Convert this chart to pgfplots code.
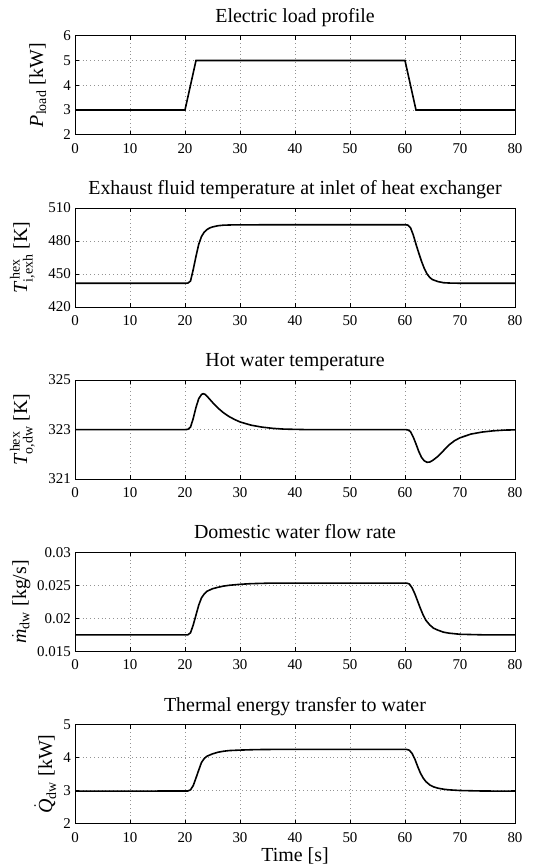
\documentclass[border=0pt]{standalone}
\usepackage{fontspec}
\setmainfont{Liberation Serif}
\usepackage{amsmath}
\usepackage{pgfplots}
\pgfplotsset{compat=1.18}
\pgfplotsset{
  mstyle/.style={
    scale only axis, width=440bp, height=99bp,
    anchor=north west,
    xmin=0, xmax=80, xtick={0,10,...,80},
    axis line style={line width=0.8bp},
    every tick/.style={black, line width=0.6bp},
    tick align=inside, major tick length=4bp,
    grid=major,
    major grid style={line width=0.6bp, gray!85, dash pattern=on 0.6bp off 3.2bp},
    /pgf/number format/assume math mode=true,
    ticklabel style={font=\fontsize{15}{15}\selectfont},
    xticklabel style={inner sep=0pt, yshift=-8.5bp},
    yticklabel style={inner sep=0pt, xshift=-4bp},
    scaled y ticks=false,
    title style={font=\fontsize{20}{22}\selectfont, at={(0.5,1)}, anchor=base, yshift=7.5bp, inner sep=0pt},
    ylabel style={font=\fontsize{20}{22}\selectfont, anchor=base, inner sep=0pt},
    xlabel style={font=\fontsize{20}{22}\selectfont, at={(axis description cs:0.5,0)}, anchor=base, yshift=-38bp, inner sep=0pt},
    every axis plot post/.append style={black, line width=1.6bp, mark=none},
  }
}
\begin{document}
\begin{tikzpicture}
\useasboundingbox (0,0) rectangle (542bp,-865bp);
% 1
\begin{axis}[mstyle, at={(75bp,-35.7bp)},
  ymin=2, ymax=6, ytick={2,3,4,5,6},
  title={Electric load profile},
  ylabel={$\textit{P}_{\text{load}}$ [kW]},
  ylabel style={at={(axis description cs:-0.0727,0.5)}}]
\addplot coordinates {(0,3)(20,3)(22,5)(60,5)(62,3)(80,3)};
\end{axis}
% 2
\begin{axis}[mstyle, at={(75bp,-207.9bp)},
  ymin=420, ymax=510, ytick={420,450,480,510},
  title={Exhaust fluid temperature at inlet of heat exchanger},
  ylabel={$\textit{T}^{\,\text{hex}}_{\text{i,exh}}$ [K]},
  ylabel style={at={(axis description cs:-0.109,0.5)}}]
\addplot coordinates {(0,441.5)(20,441.5)(20.5,441.6)(21,443.5)(21.5,454)(22,466)(22.5,477)(23,484)(23.5,488)(24,490.3)(24.5,491.8)(25,492.7)(26,493.8)(27,494.3)(29,494.6)(40,494.7)(60,494.7)(60.5,494.4)(61,492)(61.5,485.5)(62,477)(62.5,469)(63,461.5)(63.5,455)(64,450)(64.5,446.8)(65,444.8)(66,443)(67,442)(68,441.7)(70,441.5)(80,441.5)};
\end{axis}
% 3
\begin{axis}[mstyle, at={(75bp,-380.1bp)},
  ymin=321, ymax=325, ytick={321,323,325},
  title={Hot water temperature},
  ylabel={$\textit{T}^{\,\text{hex}}_{\text{o,dw}}$ [K]},
  ylabel style={at={(axis description cs:-0.109,0.5)}}]
\addplot coordinates {(0,323)(20,323)(20.5,323.01)(21,323.1)(21.5,323.45)(22,323.9)(22.5,324.25)(23,324.42)(23.3,324.45)(23.7,324.42)(24.2,324.3)(25,324.1)(26,323.87)(27,323.68)(28,323.53)(29,323.41)(30,323.31)(32,323.18)(34,323.1)(36,323.05)(38,323.02)(42,323.0)(60,323.0)(60.5,322.99)(61,322.92)(61.5,322.7)(62,322.42)(62.5,322.12)(63,321.88)(63.5,321.74)(64,321.68)(64.5,321.69)(65,321.75)(66,321.92)(67,322.15)(68,322.38)(69,322.55)(70,322.67)(72,322.82)(74,322.9)(76,322.95)(78,322.98)(80,322.99)};
\end{axis}
% 4
\begin{axis}[mstyle, at={(75bp,-552.3bp)},
  ymin=0.015, ymax=0.03, ytick={0.015,0.02,0.025,0.03},
  yticklabels={0.015,0.02,0.025,0.03},
  title={Domestic water flow rate},
  ylabel={$\dot{\textit{m}}_{\text{dw}}$ [kg/s]},
  ylabel style={at={(axis description cs:-0.111,0.5)}}]
\addplot coordinates {(0,0.01748)(20.5,0.0175)(21,0.0178)(21.5,0.0190)(22,0.0205)(22.5,0.0220)(23,0.0231)(23.5,0.0237)(24,0.0241)(25,0.02448)(26,0.0247)(27,0.02488)(28,0.0250)(30,0.02515)(32,0.02525)(35,0.02532)(40,0.02534)(60.3,0.02534)(60.8,0.0252)(61.3,0.0246)(61.8,0.0237)(62.3,0.0226)(62.8,0.0215)(63.3,0.0205)(63.8,0.0197)(64.5,0.0190)(65.2,0.0185)(66,0.0182)(67,0.0179)(68,0.01775)(70,0.01758)(74,0.0175)(80,0.01748)};
\end{axis}
% 5
\begin{axis}[mstyle, at={(75bp,-724.5bp)},
  ymin=2, ymax=5, ytick={2,3,4,5},
  title={Thermal energy transfer to water},
  ylabel={$\dot{\textit{Q}}_{\text{dw}}$ [kW]},
  ylabel style={at={(axis description cs:-0.052,0.5)}},
  xlabel={Time [s]}]
\addplot coordinates {(0,2.98)(20.5,2.985)(21,3.02)(21.5,3.15)(22,3.38)(22.5,3.62)(23,3.85)(23.5,3.97)(24,4.04)(25,4.11)(26,4.16)(27,4.19)(28,4.21)(30,4.225)(33,4.24)(36,4.245)(60.3,4.245)(60.8,4.22)(61.3,4.12)(61.8,3.95)(62.3,3.73)(62.8,3.53)(63.3,3.38)(63.8,3.27)(64.5,3.17)(65.2,3.11)(66,3.07)(67,3.04)(68,3.02)(70,3.0)(74,2.985)(80,2.98)};
\end{axis}
\end{tikzpicture}
\end{document}
